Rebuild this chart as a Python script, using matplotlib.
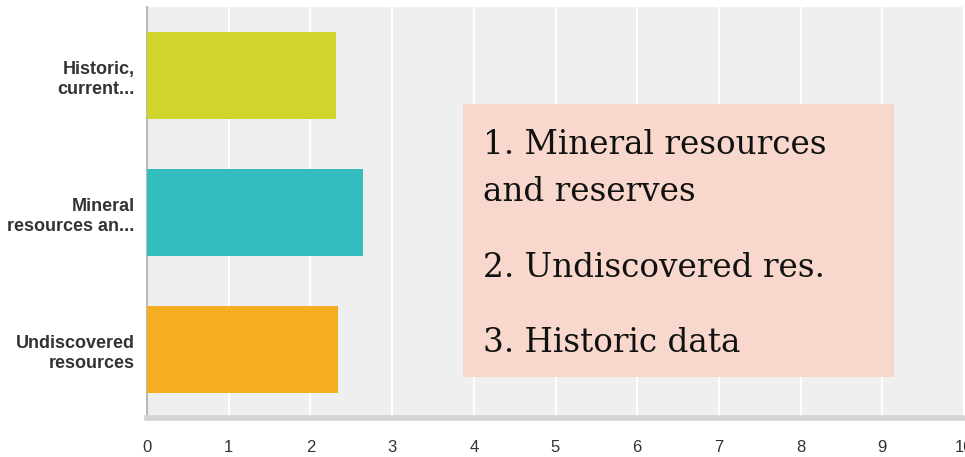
import matplotlib.pyplot as plt
from matplotlib.patches import Rectangle

# data
categories = ['Historic,\ncurrent...', 'Mineral\nresources an...', 'Undiscovered\nresources']
values = [2.31, 2.64, 2.34]
colors = ['#CFD52A', '#34BDBE', '#F5AE1F']
xticks = list(range(0, 11))
note_lines = ['1. Mineral resources', 'and reserves', '2. Undiscovered res.', '3. Historic data']

W, H = 965, 457
fig = plt.figure(figsize=(W / 100, H / 100), dpi=100)
ax = fig.add_axes([147 / W, (H - 418) / H, (964 - 147) / W, (418 - 7) / H])
ax.set_facecolor('#EFEFEF')

ypos = list(range(len(categories)))
ax.barh(ypos, values, height=0.64, color=colors, zorder=3)
ax.set_ylim(2.5, -0.5)
ax.set_xlim(0, 10)

ax.set_yticks(ypos)
ax.set_yticklabels(categories, fontsize=13, fontweight='bold', color='#333333',
                   family='Liberation Sans', linespacing=1.3)
ax.set_xticks(xticks)
ax.set_xticklabels([str(t) for t in xticks], fontsize=12, color='#333333',
                   family='Liberation Sans')
ax.tick_params(axis='y', length=0, pad=9)
ax.tick_params(axis='x', length=0, pad=16)

ax.grid(axis='x', color='white', linewidth=1.5, zorder=1)
ax.set_axisbelow(True)
for side in ['top', 'right']:
    ax.spines[side].set_visible(False)
ax.spines['left'].set_color('#BBBBBB')
ax.spines['left'].set_linewidth(1.5)
ax.spines['bottom'].set_color('#D4D4D4')
ax.spines['bottom'].set_linewidth(4)

# annotation box on top of the chart
fig.add_artist(Rectangle((463 / W, (H - 377) / H), (894 - 463) / W, (377 - 104) / H,
                         transform=fig.transFigure, facecolor='#F8D8CC',
                         edgecolor='none', zorder=5))
baselines = [154, 201, 277, 352]
for line, yb in zip(note_lines, baselines):
    fig.text(483 / W, (H - yb) / H, line, fontsize=23.5, family='DejaVu Serif',
             color='#111111', va='baseline', ha='left', zorder=6)

fig.savefig('out.png', dpi=100)
